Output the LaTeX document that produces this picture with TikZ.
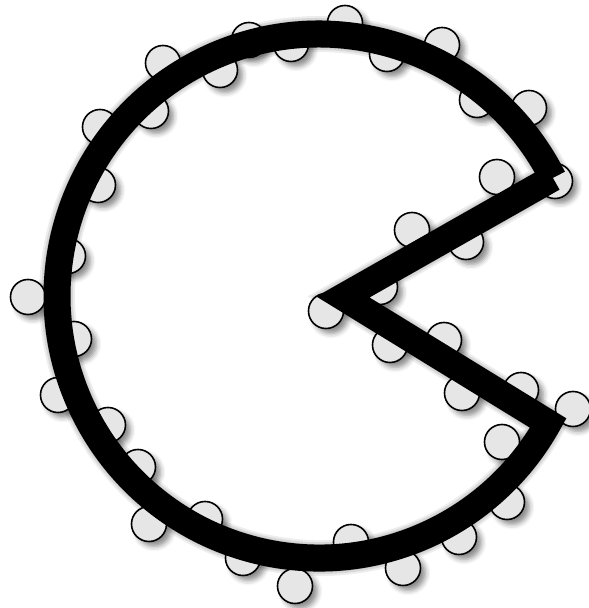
\documentclass[tikz,border=0pt]{standalone}
\usetikzlibrary{shadows.blur}
\definecolor{beadgray}{RGB}{230,230,230}

\begin{document}
\begin{tikzpicture}[x=0.01cm,y=0.01cm,
  bead/.style={circle,draw=black,line width=0.45pt,fill=beadgray,minimum size=0.35cm,inner sep=0pt,
    blur shadow={shadow xshift=0.05cm,shadow yshift=-0.05cm,shadow blur radius=0.05cm,shadow opacity=45}},
  jaw/.style={line width=0.27cm,line join=miter,line cap=butt}]
\useasboundingbox (0,0) rectangle (589,608);
% outline of the pie: arc round the left, then the two jaws
\coordinate (upper) at (552.9,430.1);
\coordinate (mouth) at (343,311);
% soft shadow of the thick outline
\foreach \w/\o in {0.36cm/0.07,0.32cm/0.09,0.28cm/0.12}
  \draw[jaw,line width=\w,opacity=\o,xshift=0.05cm,yshift=-0.05cm]
    (upper) arc[start angle=26.8,end angle=331,radius=262] -- (mouth) -- (upper);
% beads along both sides of the outline
\foreach \x/\y [count=\i] in {163/545,220/538,249/568,291/564,345/585,387/554,442/563,
  477/508,529/500,555/427,497/431,412/378,466/366,380/321,326/297,390/263,444/268,
  462/215,521/218,573/199,502/166,507/106,459/71,403/40,351/66,295/22,243/50,
  205/89,149/84,138/141,108/183,58/213,74/269,28/311,68/352,98/423,100/481,151/497}
  \node[bead] (b\i) at (\x,\y) {};
\draw[jaw] (upper) arc[start angle=26.8,end angle=331,radius=262] -- (mouth) -- (upper);
\end{tikzpicture}
\end{document}
